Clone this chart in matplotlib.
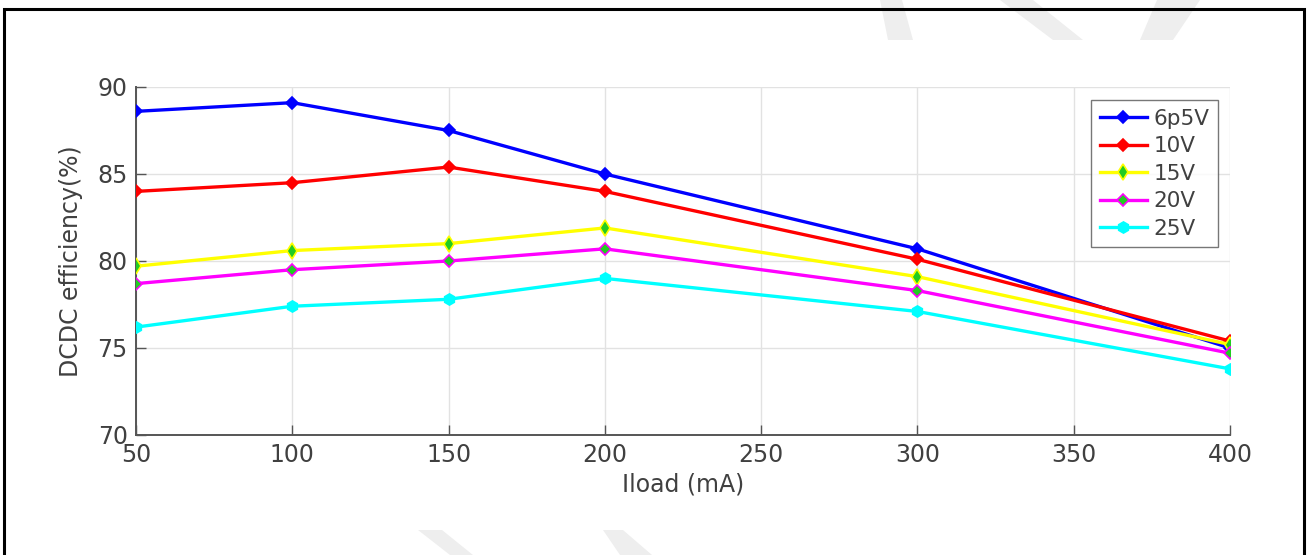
"""
DCDC efficiency vs load current, five input voltages
"""
import matplotlib
matplotlib.use('Agg')
import matplotlib.pyplot as plt
from matplotlib.patches import Polygon, Rectangle

# data
iload = [50, 100, 150, 200, 300, 400]
eff_6p5v = [88.6, 89.1, 87.5, 85.0, 80.7, 75.0]
eff_10v = [84.0, 84.5, 85.4, 84.0, 80.1, 75.4]
eff_15v = [79.7, 80.6, 81.0, 81.9, 79.1, 75.2]
eff_20v = [78.7, 79.5, 80.0, 80.7, 78.3, 74.7]
eff_25v = [76.2, 77.4, 77.8, 79.0, 77.1, 73.8]
labels = ['6p5V', '10V', '15V', '20V', '25V']
xticks = [50, 100, 150, 200, 250, 300, 350, 400]
yticks = [70, 75, 80, 85, 90]

W, H = 1309, 555
fig = plt.figure(figsize=(W / 100, H / 100), dpi=100)
text_col = '#404040'

# document watermark (light gray strokes) behind everything
def fig_poly(pts):
    return Polygon([(x / W, 1 - y / H) for x, y in pts], closed=True,
                   transform=fig.transFigure, facecolor='#eeeeee',
                   edgecolor='none', zorder=0)

for pts in [
    [(880, 0), (902, 0), (913, 40), (888, 40)],
    [(1000, 0), (1033, 0), (1083, 40), (1053, 40)],
    [(1157, 0), (1200, 0), (1173, 40), (1140, 40)],
    [(418, 530), (442, 530), (473, 555), (450, 555)],
    [(603, 530), (623, 530), (652, 555), (620, 555)],
]:
    fig.patches.append(fig_poly(pts))

# page frame
fig.patches.append(Rectangle((4 / W, -0.05), 1300 / W, 1 - 9 / H + 0.05,
                             transform=fig.transFigure, fill=False,
                             edgecolor='black', linewidth=2.2, zorder=1))

ax = fig.add_axes([136 / W, 1 - 435 / H, (1230 - 136) / W, (435 - 87) / H])
ax.set_facecolor('none')

series = [eff_6p5v, eff_10v, eff_15v, eff_20v, eff_25v]
colors = ['#0000ff', '#ff0000', '#ffff00', '#ff00ff', '#00ffff']
markers = ['D', 'D', 'd', 'D', 'h']
faces = ['#0000ff', '#ff0000', '#22cc22', '#22cc22', '#00ffff']
msizes = [6.5, 6.5, 8, 6.5, 8]

for y, c, m, fc, ms, lab in zip(series, colors, markers, faces, msizes, labels):
    ax.plot(iload, y, color=c, linewidth=2.4, marker=m, markersize=ms,
            markerfacecolor=fc, markeredgecolor=c, markeredgewidth=1.2,
            label=lab, zorder=3)

ax.set_xlim(50, 400)
ax.set_ylim(70, 90)
ax.set_xticks(xticks)
ax.set_yticks(yticks)
ax.grid(True, color='#e2e2e2', linewidth=1.0)
ax.set_axisbelow(True)

for side in ['top', 'right']:
    ax.spines[side].set_visible(False)
for side in ['left', 'bottom']:
    ax.spines[side].set_color('#555555')
    ax.spines[side].set_linewidth(1.4)

ax.tick_params(direction='in', length=7, width=1.0, colors='#555555',
               labelcolor=text_col, labelsize=17, pad=6)

ax.set_xlabel('Iload (mA)', fontsize=17, color=text_col, labelpad=4)
ax.set_ylabel('DCDC efficiency(%)', fontsize=17, color=text_col, labelpad=10)

leg = ax.legend(loc='upper right', bbox_to_anchor=(1218 / W, 1 - 100 / H),
                bbox_transform=fig.transFigure, fontsize=15.5, frameon=True,
                fancybox=False, handlelength=2.2, handletextpad=0.3,
                borderpad=0.4, labelspacing=0.35, borderaxespad=0)
leg.get_frame().set_edgecolor('#555555')
leg.get_frame().set_linewidth(1.0)
for t in leg.get_texts():
    t.set_color(text_col)

plt.savefig('out.png', dpi=100)
plt.close()
